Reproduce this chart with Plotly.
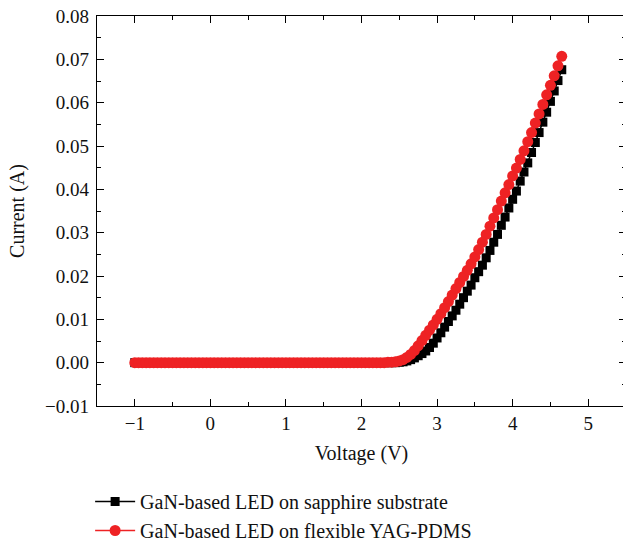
import plotly.graph_objects as go

voltage = [
    -1.00, -0.95, -0.90, -0.85, -0.80, -0.75, -0.70, -0.65, -0.60, -0.55,
    -0.50, -0.45, -0.40, -0.35, -0.30, -0.25, -0.20, -0.15, -0.10, -0.05,
    0.00, 0.05, 0.10, 0.15, 0.20, 0.25, 0.30, 0.35, 0.40, 0.45,
    0.50, 0.55, 0.60, 0.65, 0.70, 0.75, 0.80, 0.85, 0.90, 0.95,
    1.00, 1.05, 1.10, 1.15, 1.20, 1.25, 1.30, 1.35, 1.40, 1.45,
    1.50, 1.55, 1.60, 1.65, 1.70, 1.75, 1.80, 1.85, 1.90, 1.95,
    2.00, 2.05, 2.10, 2.15, 2.20, 2.25, 2.30, 2.35, 2.40, 2.45,
    2.50, 2.55, 2.60, 2.65, 2.70, 2.75, 2.80, 2.85, 2.90, 2.95,
    3.00, 3.05, 3.10, 3.15, 3.20, 3.25, 3.30, 3.35, 3.40, 3.45,
    3.50, 3.55, 3.60, 3.65, 3.70, 3.75, 3.80, 3.85, 3.90, 3.95,
    4.00, 4.05, 4.10, 4.15, 4.20, 4.25, 4.30, 4.35, 4.40, 4.45,
    4.50, 4.55, 4.60, 4.65,
]

current_sapphire = [
    0.0000, 0.0000, 0.0000, 0.0000, 0.0000, 0.0000, 0.0000, 0.0000, 0.0000, 0.0000,
    0.0000, 0.0000, 0.0000, 0.0000, 0.0000, 0.0000, 0.0000, 0.0000, 0.0000, 0.0000,
    0.0000, 0.0000, 0.0000, 0.0000, 0.0000, 0.0000, 0.0000, 0.0000, 0.0000, 0.0000,
    0.0000, 0.0000, 0.0000, 0.0000, 0.0000, 0.0000, 0.0000, 0.0000, 0.0000, 0.0000,
    0.0000, 0.0000, 0.0000, 0.0000, 0.0000, 0.0000, 0.0000, 0.0000, 0.0000, 0.0000,
    0.0000, 0.0000, 0.0000, 0.0000, 0.0000, 0.0000, 0.0000, 0.0000, 0.0000, 0.0000,
    0.0000, 0.0000, 0.0000, 0.0000, 0.0000, 0.0000, 0.0000, 0.0000, 0.0000, 0.0000,
    0.0001, 0.0002, 0.0004, 0.0007, 0.0011, 0.0016, 0.0021, 0.0027, 0.0035, 0.0045,
    0.0057, 0.0069, 0.0082, 0.0095, 0.0108, 0.0121, 0.0135, 0.0150, 0.0165, 0.0179,
    0.0196, 0.0210, 0.0225, 0.0242, 0.0259, 0.0278, 0.0296, 0.0317, 0.0336, 0.0357,
    0.0377, 0.0396, 0.0419, 0.0440, 0.0461, 0.0485, 0.0508, 0.0531, 0.0555, 0.0578,
    0.0603, 0.0627, 0.0651, 0.0676,
]

current_yag_pdms = [
    0.0000, 0.0000, 0.0000, 0.0000, 0.0000, 0.0000, 0.0000, 0.0000, 0.0000, 0.0000,
    0.0000, 0.0000, 0.0000, 0.0000, 0.0000, 0.0000, 0.0000, 0.0000, 0.0000, 0.0000,
    0.0000, 0.0000, 0.0000, 0.0000, 0.0000, 0.0000, 0.0000, 0.0000, 0.0000, 0.0000,
    0.0000, 0.0000, 0.0000, 0.0000, 0.0000, 0.0000, 0.0000, 0.0000, 0.0000, 0.0000,
    0.0000, 0.0000, 0.0000, 0.0000, 0.0000, 0.0000, 0.0000, 0.0000, 0.0000, 0.0000,
    0.0000, 0.0000, 0.0000, 0.0000, 0.0000, 0.0000, 0.0000, 0.0000, 0.0000, 0.0000,
    0.0000, 0.0000, 0.0000, 0.0000, 0.0000, 0.0000, 0.0000, 0.0001, 0.0001, 0.0002,
    0.0004, 0.0007, 0.0012, 0.0019, 0.0028, 0.0039, 0.0051, 0.0063, 0.0075, 0.0087,
    0.0100, 0.0113, 0.0127, 0.0141, 0.0156, 0.0171, 0.0185, 0.0199, 0.0213, 0.0228,
    0.0244, 0.0261, 0.0278, 0.0296, 0.0315, 0.0334, 0.0353, 0.0373, 0.0392, 0.0411,
    0.0431, 0.0449, 0.0469, 0.0489, 0.0510, 0.0531, 0.0553, 0.0574, 0.0596, 0.0618,
    0.0640, 0.0662, 0.0685, 0.0707,
]

series_names = [
    "GaN-based LED on sapphire substrate",
    "GaN-based LED on flexible YAG-PDMS",
]

x_ticks = [-1, 0, 1, 2, 3, 4, 5]
y_ticks = [-0.01, 0.00, 0.01, 0.02, 0.03, 0.04, 0.05, 0.06, 0.07, 0.08]

FONT = "Liberation Serif"

fig = go.Figure()
fig.add_trace(go.Scatter(
    x=voltage, y=current_sapphire, name=series_names[0], mode="lines+markers",
    line=dict(color="#000000", width=1.5),
    marker=dict(symbol="square", size=9, color="#000000"),
))
fig.add_trace(go.Scatter(
    x=voltage, y=current_yag_pdms, name=series_names[1], mode="lines+markers",
    line=dict(color="#ee2224", width=1.5),
    marker=dict(symbol="circle", size=11, color="#ee2224"),
))

axis_common = dict(
    showline=True, linecolor="#000000", linewidth=1.3, mirror="ticks",
    ticks="inside", ticklen=7, tickwidth=1.3, tickcolor="#000000",
    showgrid=False, zeroline=False, automargin=False,
    tickfont=dict(family=FONT, size=19, color="#111111"),
)

fig.update_layout(
    width=626, height=550,
    margin=dict(l=97, r=0, t=16, b=143),
    paper_bgcolor="white", plot_bgcolor="white",
    font=dict(family=FONT, size=19, color="#111111"),
    xaxis=dict(
        **axis_common, range=[-1.5, 5.5], tickvals=x_ticks,
        minor=dict(ticks="inside", ticklen=4, tickwidth=1.3, tickcolor="#000000", dtick=0.5, tick0=0),
        title=dict(text="Voltage (V)", font=dict(family=FONT, size=20, color="#111111"), standoff=13),
    ),
    yaxis=dict(
        **axis_common, range=[-0.01, 0.08], tickvals=y_ticks, tickformat=".2f",
        ticklabelstandoff=3,
        minor=dict(ticks="inside", ticklen=4, tickwidth=1.3, tickcolor="#000000", dtick=0.005, tick0=0),
        title=dict(text="Current (A)", font=dict(family=FONT, size=20, color="#111111"), standoff=15),
    ),
    legend=dict(
        x=-0.013, y=-0.194, xanchor="left", yanchor="top",
        bgcolor="rgba(0,0,0,0)", font=dict(family=FONT, size=20, color="#111111"),
        tracegroupgap=0, itemwidth=40,
    ),
    showlegend=True,
)

fig.write_html(
    "out.html",
    config={"displayModeBar": False},
    post_script="document.body.style.margin='0';",
)
